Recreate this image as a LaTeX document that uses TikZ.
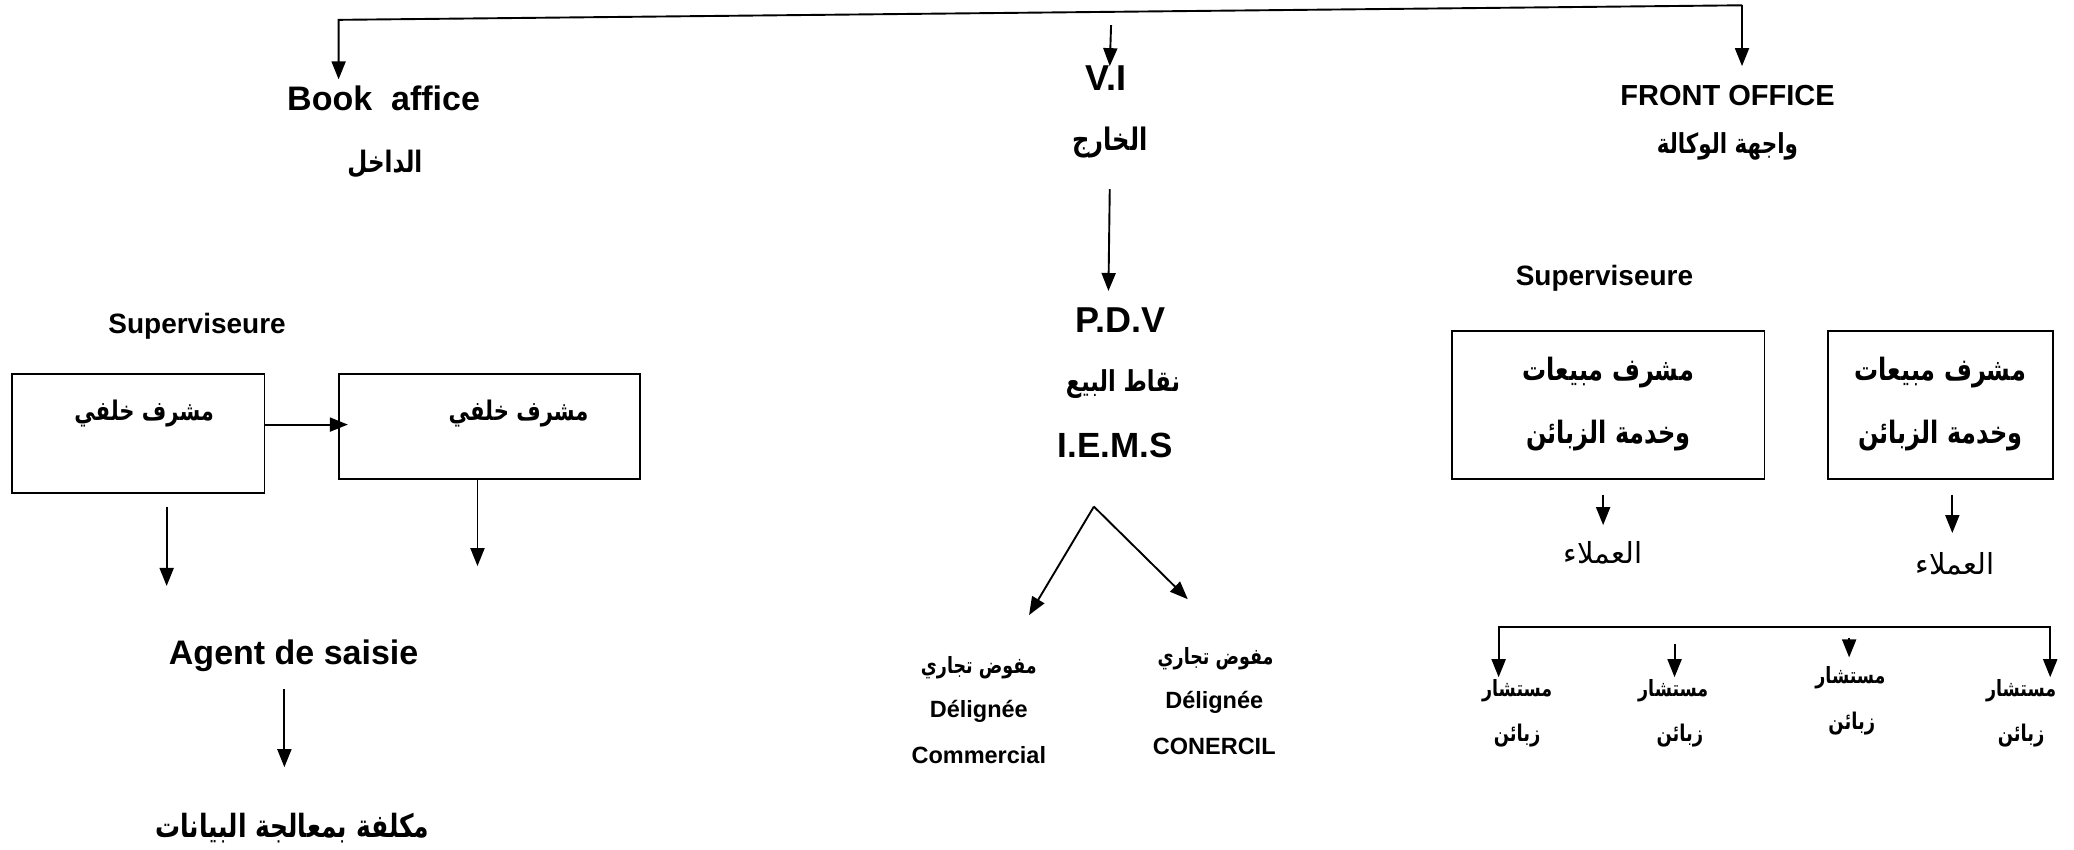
\documentclass[tikz,border=0pt]{standalone}
\usepackage{fontspec}
\setmainfont{Liberation Sans}
\newfontfamily\arabicfont[Script=Arabic]{DejaVu Sans}
\newfontfamily\arabicnarrow[Script=Arabic, FakeStretch=0.78]{DejaVu Sans}
\TeXXeTstate=1
\usetikzlibrary{arrows.meta,fit}
\newcommand\artext[1]{{\arabicnarrow\beginR #1\endR}}
\newcommand\arplain[1]{{\arabicfont\beginR #1\endR}}
\newcommand\fsz[1]{\fontsize{#1}{#1}\selectfont}

\begin{document}
\begin{tikzpicture}[x=1.3227pt,y=-1.3227pt,
  lbl/.style={inner sep=0pt, font=\bfseries},
  arr/.style={-{Triangle[length=18pt,width=14pt]}, line width=1.9pt},
  twoarr/.style={{Triangle[length=18pt,width=14pt]}-{Triangle[length=18pt,width=14pt]}, line width=1.9pt},
  box/.style={draw, line width=1.9pt, inner sep=0pt}]
\useasboundingbox (0,0) rectangle (1568,642);

% ---------- top level ----------
\node[lbl, font=\bfseries\fsz{34}] (book) at (290,74) {Book\ \ affice};
\node[lbl, font=\bfseries\fsz{29.5}] (dakhil) at (291,124) {\artext{الداخل}};
\node[lbl, font=\bfseries\fsz{36}] (vi) at (836,59) {V.I};
\node[lbl, font=\bfseries\fsz{31}] (kharij) at (839,108) {\artext{الخارج}};
\node[lbl, font=\bfseries\fsz{29}] (front) at (1306,72) {FRONT OFFICE};
\node[lbl, font=\bfseries\fsz{27.5}] (wajiha) at (1306,111) {\artext{واجهة الوكالة}};

\coordinate (topL) at (256,15);
\coordinate (topR) at (1317,4);
\coordinate (bookIn) at (256,60);
\coordinate (viOut) at (840,19);
\coordinate (viIn) at (839,50);
\coordinate (frontIn) at (1317,50);
\draw[arr] (topR) -- (topL) -- (bookIn);
\draw[arr] (viOut) -- (viIn);
\draw[arr] (topR) -- (frontIn);

% ---------- middle branch ----------
\node[lbl, font=\bfseries\fsz{36}] (pdv) at (847,242) {P.D.V};
\node[lbl, font=\bfseries\fsz{28.8}] (niqat) at (849,290) {\artext{نقاط البيع}};
\node[lbl, font=\bfseries\fsz{35}] (iems) at (843,337) {I.E.M.S};
\coordinate (khOut) at (839,143);
\coordinate (pdvIn) at (838,220);
\draw[arr] (khOut) -- (pdvIn);

\coordinate (apex) at (827,383);
\coordinate (dlIn) at (778,465);
\coordinate (drIn) at (898,453);
\draw[arr] (apex) -- (dlIn);
\draw[arr] (apex) -- (drIn);

\node[lbl, font=\bfseries\fsz{22.4}] (mfl) at (740,505) {\artext{مفوض تجاري}};
\node[lbl, font=\bfseries\fsz{23.5}] (dll) at (740,538) {Délignée};
\node[lbl, font=\bfseries\fsz{23.5}] (coml) at (740,571) {Commercial};
\node[lbl, font=\bfseries\fsz{22.4}] (mfr) at (919,498) {\artext{مفوض تجاري}};
\node[lbl, font=\bfseries\fsz{23.5}] (dlr) at (918,531) {Délignée};
\node[lbl, font=\bfseries\fsz{23.5}] (comr) at (918,564) {CONERCIL};

% ---------- front office branch ----------
\node[lbl, font=\bfseries\fsz{28}] (supR) at (1213,210) {Superviseure};
\node[box, fit={(1098,250) (1334,362)}] (R1) {};
\node[box, fit={(1382,250) (1552,362)}] (R2) {};
\node[lbl, font=\bfseries\fsz{30.8}] (r1a) at (1216,282) {\artext{مشرف مبيعات}};
\node[lbl, font=\bfseries\fsz{30.8}] (r1b) at (1216,329) {\artext{وخدمة الزبائن}};
\node[lbl, font=\bfseries\fsz{30.8}] (r2a) at (1467,282) {\artext{مشرف مبيعات}};
\node[lbl, font=\bfseries\fsz{30.8}] (r2b) at (1467,329) {\artext{وخدمة الزبائن}};

\node[inner sep=0pt, font=\fsz{29}] (c1) at (1212,418) {\arplain{العملاء}};
\node[inner sep=0pt, font=\fsz{29}] (c2) at (1478,426) {\arplain{العملاء}};
\coordinate (r1Out) at (1212,374);
\coordinate (c1In) at (1212,397);
\coordinate (r2Out) at (1476,374);
\coordinate (c2In) at (1476,403);
\draw[arr] (r1Out) -- (c1In);
\draw[arr] (r2Out) -- (c2In);

\coordinate (bL) at (1133,512);
\coordinate (bLc) at (1133,474);
\coordinate (bRc) at (1550,474);
\coordinate (bR) at (1550,512);
\draw[twoarr] (bL) -- (bLc) -- (bRc) -- (bR);
\coordinate (m1Out) at (1266,487);
\coordinate (m1In) at (1266,512);
\coordinate (m2Out) at (1398,482);
\coordinate (m2In) at (1398,497);
\draw[arr] (m1Out) -- (m1In);
\draw[arr] (m2Out) -- (m2In);

\node[lbl, font=\bfseries\fsz{22.4}] (s1) at (1147,522) {\artext{مستشار}};
\node[lbl, font=\bfseries\fsz{23}] (z1) at (1147,556) {\artext{زبائن}};
\node[lbl, font=\bfseries\fsz{22.4}] (s2) at (1265,522) {\artext{مستشار}};
\node[lbl, font=\bfseries\fsz{23}] (z2) at (1270,556) {\artext{زبائن}};
\node[lbl, font=\bfseries\fsz{22.4}] (s3) at (1399,512) {\artext{مستشار}};
\node[lbl, font=\bfseries\fsz{23}] (z3) at (1400,547) {\artext{زبائن}};
\node[lbl, font=\bfseries\fsz{22.4}] (s4) at (1528,522) {\artext{مستشار}};
\node[lbl, font=\bfseries\fsz{23}] (z4) at (1528,556) {\artext{زبائن}};

% ---------- back office branch ----------
\node[lbl, font=\bfseries\fsz{28}] (supL) at (149,247) {Superviseure};
\node[box, fit={(9,283) (200,373)}] (L1) {};
\node[box, fit={(256,283) (484,362)}] (L2) {};
\node[lbl, font=\bfseries\fsz{27}] (l1t) at (109,313) {\artext{مشرف خلفي}};
\node[lbl, font=\bfseries\fsz{27}] (l2t) at (392,313) {\artext{مشرف خلفي}};
\coordinate (row) at (0,321);
\coordinate (l2In) at (263,321);
\draw[arr] (L1.east |- row) -- (l2In);

\coordinate (l1Out) at (126,383);
\coordinate (l1In) at (126,443);
\coordinate (l2Out) at (361,362);
\coordinate (l2Dn) at (361,428);
\draw[arr] (l1Out) -- (l1In);
\draw[arr] (l2Out) -- (l2Dn);

\node[lbl, font=\bfseries\fsz{34}] (agent) at (222,496) {Agent de saisie};
\node[lbl, font=\bfseries\fsz{32}] (mukallafa) at (221,626) {\artext{مكلفة بمعالجة البيانات}};
\coordinate (agOut) at (215,521);
\coordinate (agIn) at (215,580);
\draw[arr] (agOut) -- (agIn);
\end{tikzpicture}
\end{document}
